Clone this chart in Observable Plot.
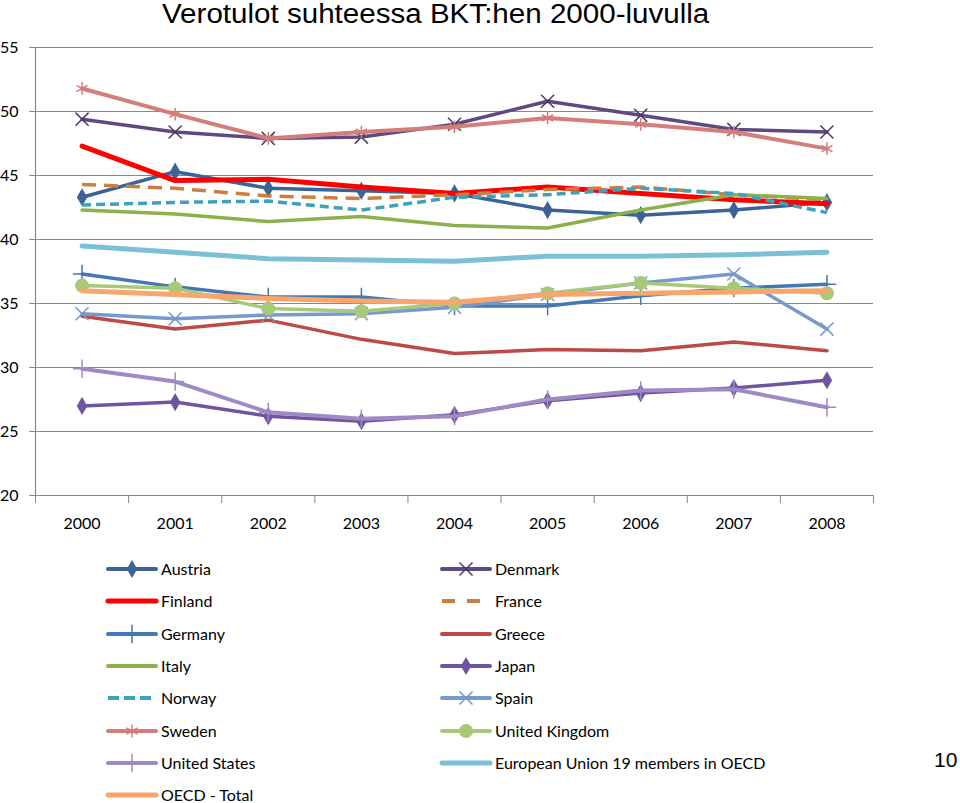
<!DOCTYPE html>
<html><head><meta charset="utf-8">
<script src="https://cdn.jsdelivr.net/npm/d3@7"></script>
<script src="https://cdn.jsdelivr.net/npm/@observablehq/plot@0.6"></script>
<style>
body{margin:0;background:#fff;}
#wrap{position:relative;width:960px;height:803px;overflow:hidden;font-family:Lato,"Noto Sans",sans-serif;}
#title{position:absolute;left:162px;top:1px;white-space:nowrap;font-family:"Liberation Sans",Arial,sans-serif;font-size:27px;line-height:27px;color:#000;transform:scaleX(1.095);transform-origin:left top;}
#chart{position:absolute;left:0;top:0;}
.lg{position:absolute;height:16px;display:flex;align-items:center;font-size:16px;line-height:16px;color:#000;white-space:nowrap;}
.lg svg{margin-right:5px;overflow:visible;}
#page{position:absolute;left:934px;top:748px;font-family:"Liberation Sans",Arial,sans-serif;font-size:21px;}
</style></head>
<body>
<div id="wrap">
  <div id="title">Verotulot suhteessa BKT:hen 2000-luvulla</div>
  <div id="chart"></div>
  <div id="legend"></div>
  <div id="page">10</div>
</div>
<script>
const years = [2000, 2001, 2002, 2003, 2004, 2005, 2006, 2007, 2008];
const yTicks = [20, 25, 30, 35, 40, 45, 50, 55];

const austria = [43.3, 45.3, 44.0, 43.8, 43.6, 42.3, 41.9, 42.3, 42.9];
const denmark = [49.4, 48.4, 47.9, 48.0, 49.0, 50.8, 49.7, 48.6, 48.4];
const finland = [47.3, 44.6, 44.7, 44.1, 43.6, 44.1, 43.6, 43.1, 42.8];
const france  = [44.3, 44.0, 43.4, 43.2, 43.5, 43.9, 44.1, 43.5, 43.1];
const germany = [37.3, 36.3, 35.5, 35.5, 34.8, 34.8, 35.6, 36.2, 36.5];
const greece  = [34.0, 33.0, 33.7, 32.2, 31.1, 31.4, 31.3, 32.0, 31.3];
const italy   = [42.3, 42.0, 41.4, 41.8, 41.1, 40.9, 42.3, 43.5, 43.2];
const japan   = [27.0, 27.3, 26.2, 25.8, 26.3, 27.4, 28.0, 28.4, 29.0];
const norway  = [42.7, 42.9, 43.0, 42.3, 43.3, 43.5, 44.0, 43.6, 42.1];
const spain   = [34.2, 33.8, 34.1, 34.2, 34.7, 35.7, 36.6, 37.3, 33.0];
const sweden  = [51.8, 49.8, 47.9, 48.4, 48.8, 49.5, 49.0, 48.4, 47.1];
const uk      = [36.4, 36.2, 34.6, 34.4, 35.0, 35.8, 36.6, 36.2, 35.8];
const usa     = [29.9, 28.9, 26.5, 26.0, 26.2, 27.5, 28.2, 28.3, 26.9];
const eu19    = [39.5, 39.0, 38.5, 38.4, 38.3, 38.7, 38.7, 38.8, 39.0];
const oecd    = [36.0, 35.7, 35.4, 35.2, 35.1, 35.7, 35.8, 35.9, 36.0];

const names = ["Austria","Denmark","Finland","France","Germany","Greece","Italy","Japan",
  "Norway","Spain","Sweden","United Kingdom","United States","European Union 19 members in OECD","OECD - Total"];
const valuesList = [austria, denmark, finland, france, germany, greece, italy, japan, norway, spain, sweden, uk, usa, eu19, oecd];

// styles
const styles = [
  {color:"#3B6395", width:3.5, symbol:"diamond", r:5.5, filled:true},
  {color:"#5E4A80", width:3.5, symbol:"times", r:6, filled:false, mcolor:"#4A3A68"},
  {color:"#FF0000", width:5},
  {color:"#CC7E3E", width:3.5, dash:"14,8", ldash:"13,12"},
  {color:"#4677B5", width:3.5, symbol:"plus", r:6, filled:false},
  {color:"#BD4A47", width:3.5},
  {color:"#8DB04D", width:3.5},
  {color:"#6F55A0", width:3.5, symbol:"diamond", r:5.5, filled:true},
  {color:"#3FA2BD", width:3.5, dash:"9,5", ldash:"11,5"},
  {color:"#7799CC", width:3.5, symbol:"times", r:6, filled:false},
  {color:"#D37E7B", width:4, symbol:"asterisk", r:6, filled:false},
  {color:"#A6C97A", width:3.5, symbol:"circle", r:7, filled:true},
  {color:"#9E8BC4", width:4, symbol:"plus", r:6, filled:false},
  {color:"#7CC0D7", width:5},
  {color:"#F9A66D", width:5}
];

const boundaries = [years[0] - 0.5, ...years.map(y => y + 0.5)];

const marks = [
  Plot.gridY({ticks: yTicks.filter(t => t > yTicks[0]), stroke:"#888", strokeOpacity:1, strokeWidth:1.2}),
  Plot.ruleY([yTicks[0]], {stroke:"#888", strokeWidth:1.2}),
  Plot.ruleX([boundaries[0]], {stroke:"#888", strokeWidth:1.2}),
  Plot.axisY({ticks: yTicks, tickSize:6, tickPadding:11, stroke:"#888", fill:"#000", fontSize:16, label:null, tickFormat:d=>String(d)}),
  Plot.axisX({ticks: boundaries, tickSize:8, tickFormat:()=>"", stroke:"#888", label:null}),
  Plot.axisX({ticks: years, tickSize:0, tickPadding:22, fill:"#000", fontSize:16, label:null, tickFormat:d=>String(d)})
];

names.forEach((name, k) => {
  const s = styles[k];
  const data = valuesList[k].map((v, i) => ({year: years[i], value: v}));
  marks.push(Plot.line(data, {x:"year", y:"value", stroke:s.color, strokeWidth:s.width,
    strokeDasharray:s.dash, strokeLinejoin:"round", strokeLinecap: s.dash ? "butt" : "round"}));
  if (s.symbol) {
    marks.push(Plot.dot(data, s.filled
      ? {x:"year", y:"value", symbol:s.symbol, r:s.r, fill:s.color, stroke:"none"}
      : {x:"year", y:"value", symbol:s.symbol, r:s.r, stroke:s.mcolor || s.color, strokeWidth:1.5, fill:"none"}));
  }
});

const chart = Plot.plot({
  width: 960, height: 545,
  marginTop: 47, marginBottom: 50, marginLeft: 35, marginRight: 87,
  x: {type:"linear", domain:[boundaries[0], boundaries[boundaries.length-1]], label:null},
  y: {domain:[yTicks[0], yTicks[yTicks.length-1]], label:null},
  style: {fontFamily:"Lato, 'Noto Sans', sans-serif", background:"transparent", overflow:"visible"},
  marks
});
document.getElementById("chart").appendChild(chart);

// legend (row-major, two columns)
const legend = document.getElementById("legend");
const symMap = {diamond:d3.symbolDiamond, times:d3.symbolTimes, plus:d3.symbolPlus, asterisk:d3.symbolAsterisk, circle:d3.symbolCircle};
names.forEach((name, k) => {
  const s = styles[k];
  const row = Math.floor(k / 2), col = k % 2;
  const div = document.createElement("div");
  div.className = "lg";
  div.style.left = (col ? 442 : 108) + "px";
  div.style.top = (569 + row * 32.3 - 8) + "px";
  const svg = d3.create("svg").attr("width", 48).attr("height", 16);
  svg.append("line").attr("x1", 0).attr("x2", 48).attr("y1", 8).attr("y2", 8)
    .attr("stroke", s.color).attr("stroke-width", Math.max(s.width, 4))
    .attr("stroke-dasharray", s.ldash || null)
    .attr("stroke-linecap", s.dash ? "butt" : "round");
  if (s.symbol) {
    const size = Math.PI * s.r * s.r;
    svg.append("path").attr("transform", "translate(24,8)")
      .attr("d", d3.symbol(symMap[s.symbol], size)())
      .attr("fill", s.filled ? s.color : "none")
      .attr("stroke", s.filled ? "none" : (s.mcolor || s.color))
      .attr("stroke-width", 1.5);
  }
  div.appendChild(svg.node());
  const span = document.createElement("span");
  span.textContent = name;
  div.appendChild(span);
  legend.appendChild(div);
});
</script>
</body></html>
